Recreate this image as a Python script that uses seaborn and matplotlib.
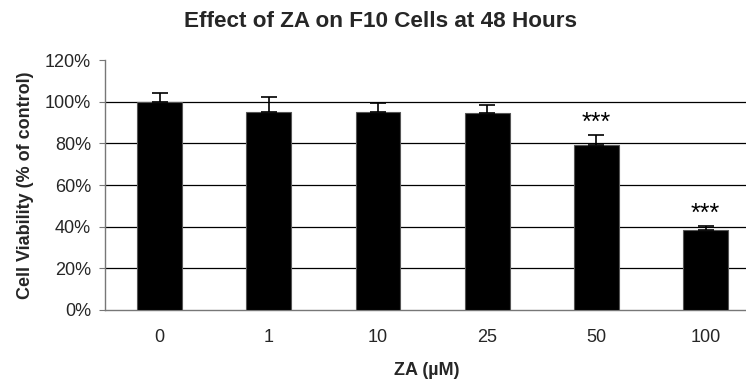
import matplotlib
matplotlib.use("Agg")
import matplotlib.pyplot as plt
import seaborn as sns
import pandas as pd
import numpy as np

categories = ["0", "1", "10", "25", "50", "100"]
viability = [100.0, 95.2, 95.2, 94.4, 79.4, 38.4]
err_upper = [4.3, 7.2, 4.0, 4.0, 4.6, 2.1]
stars = ["", "", "", "", "***", "***"]

sns.set_theme(style="white")
plt.rcParams['font.family'] = ['Liberation Sans', 'DejaVu Sans']

df = pd.DataFrame({"dose": categories, "viability": viability})

fig = plt.figure(figsize=(7.46, 3.81), dpi=100)
ax = fig.add_axes([0.1408, 0.1864, 0.862, 0.656])

sns.barplot(data=df, x="dose", y="viability", color="black", width=0.41,
            edgecolor="#555555", linewidth=0.8, ax=ax, errorbar=None, zorder=3)
for p in ax.patches:
    p.set_facecolor("black")

x = np.arange(len(categories))
ax.errorbar(x, viability, yerr=[np.zeros(len(x)), err_upper], fmt="none",
            ecolor="black", elinewidth=1.2, capsize=6, capthick=1.2, zorder=4)

for xi, v, e, s in zip(x, viability, err_upper, stars):
    if s:
        ax.text(xi, v + e + 5.8, s, ha="center", va="center", fontsize=18,
                color="black", zorder=5)

ax.set_ylim(0, 120)
ax.set_xlim(-0.5, 5.39)
ax.set_yticks([0, 20, 40, 60, 80, 100, 120])
ax.set_yticklabels([f"{t}%" for t in [0, 20, 40, 60, 80, 100, 120]], fontsize=13)
ax.set_xticks(x)
ax.set_xticklabels(categories, fontsize=13)
ax.tick_params(axis="x", which="major", length=0, pad=14)
ax.set_xticks(np.arange(0.5, 5.0, 1.0), minor=True)
ax.tick_params(axis="x", which="minor", length=4, width=0.8, color="#777777", direction="out")
ax.tick_params(axis="y", length=4, width=0.8, color="#777777", direction="out", left=True, pad=6)

for g in [20, 40, 60, 80, 100]:
    ax.axhline(g, color="black", linewidth=0.9, zorder=1)

for side in ["top", "right"]:
    ax.spines[side].set_visible(False)
for side in ["left", "bottom"]:
    ax.spines[side].set_color("#777777")
    ax.spines[side].set_linewidth(1.0)

ax.set_xlabel("ZA (µM)", fontsize=13, fontweight="bold", labelpad=11)
ax.set_ylabel("Cell Viability (% of control)", fontsize=13, fontweight="bold", labelpad=8)
fig.suptitle("Effect of ZA on F10 Cells at 48 Hours", fontsize=16.2, fontweight="bold",
             x=0.51, y=0.972)

fig.savefig("out.png", dpi=100)
